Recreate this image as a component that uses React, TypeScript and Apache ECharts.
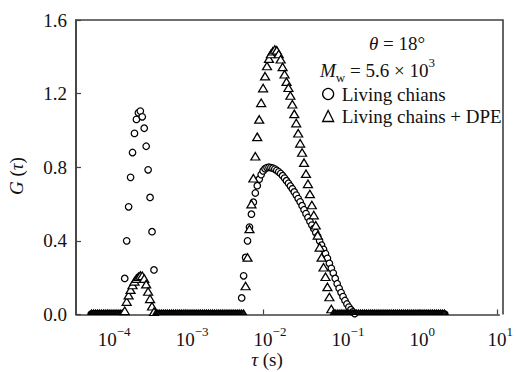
import React, { useEffect, useRef } from 'react';
import * as echarts from 'echarts';

// log10(tau / s) grid of the distribution
const logTau = [
  -4.2, -4.175, -4.15, -4.125, -4.1, -4.075, -4.05, -4.025, -4, -3.975,
  -3.95, -3.925, -3.9, -3.875, -3.85, -3.825, -3.8, -3.775, -3.75, -3.725,
  -3.7, -3.675, -3.65, -3.625, -3.6, -3.575, -3.55, -3.525, -3.5, -3.475,
  -3.45, -3.425, -3.4, -3.375, -3.35, -3.325, -3.3, -3.275, -3.25, -3.225,
  -3.2, -3.175, -3.15, -3.125, -3.1, -3.075, -3.05, -3.025, -3, -2.975,
  -2.95, -2.925, -2.9, -2.875, -2.85, -2.825, -2.8, -2.775, -2.75, -2.725,
  -2.7, -2.675, -2.65, -2.625, -2.6, -2.575, -2.55, -2.525, -2.5, -2.475,
  -2.45, -2.425, -2.4, -2.375, -2.35, -2.325, -2.3, -2.275, -2.25, -2.225,
  -2.2, -2.175, -2.15, -2.125, -2.1, -2.075, -2.05, -2.025, -2, -1.975,
  -1.95, -1.925, -1.9, -1.875, -1.85, -1.825, -1.8, -1.775, -1.75, -1.725,
  -1.7, -1.675, -1.65, -1.625, -1.6, -1.575, -1.55, -1.525, -1.5, -1.475,
  -1.45, -1.425, -1.4, -1.375, -1.35, -1.325, -1.3, -1.275, -1.25, -1.225,
  -1.2, -1.175, -1.15, -1.125, -1.1, -1.075, -1.05, -1.025, -1, -0.975,
  -0.95, -0.925, -0.9, -0.875, -0.85, -0.825, -0.8, -0.775, -0.75, -0.725,
  -0.7, -0.675, -0.65, -0.625, -0.6, -0.575, -0.55, -0.525, -0.5, -0.475,
  -0.45, -0.425, -0.4, -0.375, -0.35, -0.325, -0.3, -0.275, -0.25, -0.225,
  -0.2, -0.175, -0.15, -0.125, -0.1, -0.075, -0.05, -0.025, 0, 0.025,
  0.05, 0.075, 0.1, 0.125, 0.15, 0.175, 0.2, 0.225, 0.25, 0.275,
  0.3, 0.325,
];

// G(tau) of "Living chians"
const gLiving = [
  0, 0, 0, 0, 0, 0, 0, 0, 0, 0,
  0, 0, 0, 0, 0, 0, 0, 0.196, 0.4, 0.585,
  0.745, 0.88, 0.984, 1.06, 1.096, 1.105, 1.074, 1.012, 0.914, 0.786,
  0.636, 0.45, 0.242, 0, 0, 0, 0, 0, 0, 0,
  0, 0, 0, 0, 0, 0, 0, 0, 0, 0,
  0, 0, 0, 0, 0, 0, 0, 0, 0, 0,
  0, 0, 0, 0, 0, 0, 0, 0, 0, 0,
  0, 0, 0, 0, 0, 0, 0, 0.09, 0.21, 0.31,
  0.4, 0.475, 0.545, 0.61, 0.66, 0.7, 0.735, 0.76, 0.78, 0.792,
  0.798, 0.8, 0.798, 0.795, 0.79, 0.783, 0.775, 0.766, 0.754, 0.741,
  0.727, 0.713, 0.698, 0.683, 0.666, 0.649, 0.63, 0.612, 0.591, 0.569,
  0.548, 0.527, 0.506, 0.486, 0.466, 0.445, 0.425, 0.4, 0.377, 0.354,
  0.331, 0.305, 0.278, 0.251, 0.225, 0.196, 0.167, 0.142, 0.119, 0.097,
  0.076, 0.057, 0.04, 0.026, 0.014, 0.005, 0, 0, 0, 0,
  0, 0, 0, 0, 0, 0, 0, 0, 0, 0,
  0, 0, 0, 0, 0, 0, 0, 0, 0, 0,
  0, 0, 0, 0, 0, 0, 0, 0, 0, 0,
  0, 0, 0, 0, 0, 0, 0, 0, 0, 0,
  0, 0,
];

// G(tau) of "Living chains + DPE"
const gDPE = [
  0, 0, 0, 0, 0, 0, 0, 0, 0, 0,
  0, 0, 0, 0, 0, 0, 0, 0.02, 0.07, 0.105,
  0.135, 0.16, 0.18, 0.195, 0.205, 0.212, 0.21, 0.195, 0.165, 0.125,
  0.085, 0.045, 0.015, 0, 0, 0, 0, 0, 0, 0,
  0, 0, 0, 0, 0, 0, 0, 0, 0, 0,
  0, 0, 0, 0, 0, 0, 0, 0, 0, 0,
  0, 0, 0, 0, 0, 0, 0, 0, 0, 0,
  0, 0, 0, 0, 0, 0, 0, 0, 0, 0.155,
  0.31, 0.465, 0.6, 0.74, 0.86, 0.965, 1.06, 1.15, 1.23, 1.295,
  1.35, 1.39, 1.415, 1.43, 1.44, 1.435, 1.415, 1.387, 1.345, 1.305,
  1.265, 1.232, 1.19, 1.142, 1.09, 1.04, 0.985, 0.93, 0.88, 0.825,
  0.765, 0.71, 0.655, 0.595, 0.54, 0.485, 0.43, 0.365, 0.31, 0.257,
  0.205, 0.15, 0.095, 0.03, 0, 0, 0, 0, 0, 0,
  0, 0, 0, 0, 0, 0, 0, 0, 0, 0,
  0, 0, 0, 0, 0, 0, 0, 0, 0, 0,
  0, 0, 0, 0, 0, 0, 0, 0, 0, 0,
  0, 0, 0, 0, 0, 0, 0, 0, 0, 0,
  0, 0, 0, 0, 0, 0, 0, 0, 0, 0,
  0, 0,
];

const seriesNames = ['Living chians', 'Living chains + DPE'];
const xTickExponents = [-4, -3, -2, -1, 0, 1];
const xMinExp = -4.4;
const xMaxExp = 1.03;
const yMin = 0;
const yMax = 1.6;
const yStep = 0.4;

const SERIF = "'Liberation Serif', 'Times New Roman', serif";
const INK = '#111';
const AXIS = '#404040';

const GRID = { left: 76, top: 20, width: 427, height: 294.5 };

export default function App() {
  const ref = useRef<HTMLDivElement>(null);

  useEffect(() => {
    const chart = echarts.init(ref.current as HTMLDivElement, null, { renderer: 'svg' });

    const semicircle = 'path://M0,10A10,10,0,0,1,20,10Z';
    const build = (g: number[], zeroSymbol: string, zeroSize: number[], zeroOffset: number[]) =>
      logTau.map((t, i) =>
        g[i] === 0
          ? {
              value: [t, 0],
              symbol: zeroSymbol,
              symbolSize: zeroSize,
              symbolOffset: zeroOffset,
              itemStyle: { color: '#222', borderColor: '#000', borderWidth: 1.2 },
            }
          : [t, g[i]]
      );

    const markerStyle = { color: '#fff', borderColor: '#000', borderWidth: 1.25, opacity: 1 };

    const expText = (n: number) => (n < 0 ? '\u2212' + Math.abs(n) : String(n));

    const italicRich = { fontSize: 19, fontFamily: SERIF, fontStyle: 'italic', fill: INK };

    const gx0 = GRID.left;
    const gy0 = GRID.top;
    const gx1 = GRID.left + GRID.width;
    const gy1 = GRID.top + GRID.height;

    const option: any = {
      animation: false,
      grid: {
        left: GRID.left,
        top: GRID.top,
        width: GRID.width,
        height: GRID.height,
      },
      legend: {
        data: seriesNames,
        orient: 'vertical',
        left: 322,
        top: 84.5,
        padding: 0,
        itemGap: 3,
        itemWidth: 11,
        itemHeight: 11,
        selectedMode: false,
        itemStyle: { borderWidth: 1.3 },
        textStyle: { fontFamily: SERIF, fontSize: 19, color: INK, padding: [0, 0, 0, 3] },
      },
      xAxis: {
        type: 'value',
        min: xMinExp,
        max: xMaxExp,
        splitLine: { show: false },
        axisLine: { show: true, onZero: false, lineStyle: { color: AXIS, width: 1.6 } },
        axisTick: {
          show: true,
          inside: true,
          length: 5,
          customValues: xTickExponents,
          lineStyle: { color: AXIS, width: 1.2 },
        },
        axisLabel: {
          customValues: xTickExponents,
          margin: 10,
          formatter: (v: number) => {
            const s = expText(Math.round(v));
            return `{h|${s}}{b|10}{s|${s}}`;
          },
          rich: {
            h: { fontSize: 13, fontFamily: SERIF, color: 'rgba(0,0,0,0)', verticalAlign: 'top', lineHeight: 14 },
            b: { fontSize: 19, fontFamily: SERIF, color: INK, lineHeight: 30 },
            s: { fontSize: 13, fontFamily: SERIF, color: INK, verticalAlign: 'top', lineHeight: 14 },
          },
        },
      },
      yAxis: {
        type: 'value',
        min: yMin,
        max: yMax,
        interval: yStep,
        splitLine: { show: false },
        axisLine: { show: true, onZero: false, lineStyle: { color: AXIS, width: 1.6 } },
        axisTick: { show: true, inside: true, length: 5, lineStyle: { color: AXIS, width: 1.2 } },
        axisLabel: {
          margin: 9,
          fontFamily: SERIF,
          fontSize: 19,
          color: INK,
          formatter: (v: number) => v.toFixed(1),
        },
      },
      graphic: [
        {
          type: 'polyline',
          silent: true,
          z: 100,
          shape: {
            points: [
              [gx0, gy1],
              [gx0, gy0],
              [gx1, gy0],
              [gx1, gy1],
            ],
          },
          style: { stroke: AXIS, lineWidth: 1.6, fill: null },
        },
        {
          type: 'text',
          x: 397,
          y: 43.5,
          silent: true,
          style: {
            text: '{it|\u03b8} = 18\u00b0',
            fill: INK,
            fontSize: 19,
            fontFamily: SERIF,
            align: 'center',
            verticalAlign: 'middle',
            textAlign: 'center',
            textVerticalAlign: 'middle',
            rich: { it: italicRich },
          },
        },
        {
          type: 'text',
          x: 320,
          y: 70,
          silent: true,
          style: {
            text: '{m|M}{sub|w}{n| = 5.6 \u00d7 10}{sup|3}',
            fill: INK,
            fontSize: 19,
            fontFamily: SERIF,
            align: 'left',
            verticalAlign: 'middle',
            textAlign: 'left',
            textVerticalAlign: 'middle',
            rich: {
              m: { fontSize: 19, fontFamily: SERIF, fontStyle: 'italic', fill: INK, lineHeight: 28 },
              sub: { fontSize: 13, fontFamily: SERIF, fill: INK, verticalAlign: 'bottom', lineHeight: 14 },
              n: { fontSize: 19, fontFamily: SERIF, fill: INK, lineHeight: 28 },
              sup: { fontSize: 13, fontFamily: SERIF, fill: INK, verticalAlign: 'top', lineHeight: 14 },
            },
          },
        },
        {
          type: 'text',
          x: 16,
          y: 176,
          rotation: Math.PI / 2,
          silent: true,
          style: {
            text: '{it|G} ({it|\u03c4})',
            fill: INK,
            fontSize: 19,
            fontFamily: SERIF,
            align: 'center',
            verticalAlign: 'middle',
            textAlign: 'center',
            textVerticalAlign: 'middle',
            rich: { it: italicRich },
          },
        },
        {
          type: 'text',
          x: 267,
          y: 359,
          silent: true,
          style: {
            text: '{it|\u03c4} (s)',
            fill: INK,
            fontSize: 19,
            fontFamily: SERIF,
            align: 'center',
            verticalAlign: 'middle',
            textAlign: 'center',
            textVerticalAlign: 'middle',
            rich: { it: italicRich },
          },
        },
      ],
      series: [
        {
          name: seriesNames[0],
          type: 'scatter',
          symbol: 'circle',
          symbolSize: 6.5,
          itemStyle: markerStyle,
          silent: true,
          z: 3,
          data: build(gLiving, semicircle, [7, 3.8], [0, -1.9]),
        },
        {
          name: seriesNames[1],
          type: 'scatter',
          symbol: 'triangle',
          symbolSize: [9, 7.5],
          itemStyle: markerStyle,
          silent: true,
          z: 4,
          data: build(gDPE, 'triangle', [5.5, 4.5], [0, -2.25]),
        },
      ],
    };

    chart.setOption(option);
    return () => chart.dispose();
  }, []);

  return (
    <div
      ref={ref}
      style={{ position: 'absolute', left: 0, top: 0, width: 516, height: 372 }}
    />
  );
}
